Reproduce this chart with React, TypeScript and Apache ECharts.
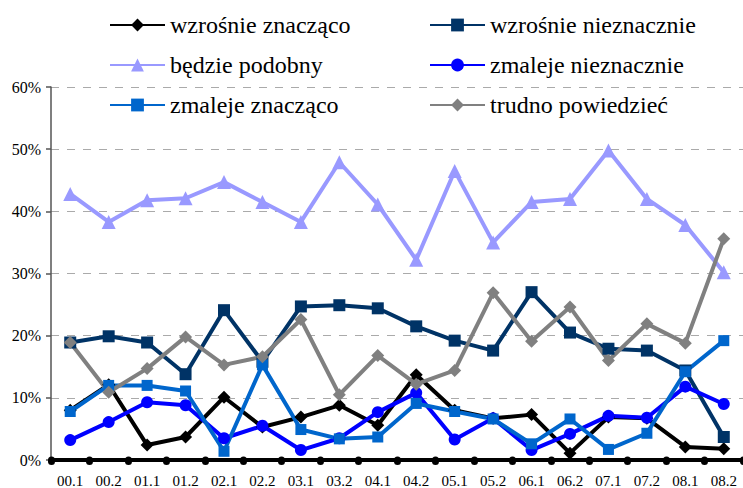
import React, { useEffect, useRef } from "react";
import * as echarts from "echarts";

const categories = ["00.1","00.2","01.1","01.2","02.1","02.2","03.1","03.2","04.1","04.2","05.1","05.2","06.1","06.2","07.1","07.2","08.1","08.2"];

const wzrosnieZnaczaco = [8.0,12.1,2.4,3.7,10.1,5.3,6.9,8.8,5.6,13.7,8.0,6.7,7.3,1.1,6.9,6.7,2.1,1.8];
const wzrosnieNieznacznie = [18.9,19.9,18.9,13.8,24.1,15.8,24.7,24.9,24.4,21.5,19.2,17.6,27.0,20.5,17.9,17.6,14.4,3.7];
const bedziePodobny = [42.8,38.3,41.8,42.1,44.7,41.5,38.3,47.9,41.1,32.2,46.5,35.0,41.5,42.0,49.8,42.0,37.8,30.2];
const zmalejeNieznacznie = [3.2,6.1,9.3,8.8,3.5,5.5,1.6,3.5,7.7,10.8,3.3,6.7,1.6,4.2,7.1,6.8,11.8,9.0];
const zmalejeZnaczaco = [7.8,12.0,12.0,11.1,1.4,15.3,4.9,3.4,3.7,9.1,7.8,6.6,2.6,6.6,1.7,4.3,14.2,19.2];
const trudnoPowiedziec = [18.9,10.9,14.7,19.8,15.3,16.6,22.6,10.5,16.8,12.2,14.4,26.9,19.1,24.6,16.0,21.9,18.8,35.6];

const yTicks = [0, 10, 20, 30, 40, 50, 60];

const FONT = "'Liberation Serif', 'Times New Roman', serif";

export default function App() {
  const ref = useRef<HTMLDivElement>(null);
  useEffect(() => {
    document.body.style.margin = "0";
    const chart = echarts.init(ref.current!, null, { renderer: "svg" });
    const mk = (name: string, data: number[], color: string, symbol: string, size: number) => ({
      name,
      type: "line",
      data,
      symbol,
      symbolSize: size,
      showSymbol: true,
      lineStyle: { color, width: 4 },
      itemStyle: { color, borderWidth: 0 },
      emphasis: { disabled: true },
    });
    const legendCommon = {
      orient: "vertical",
      top: 8,
      itemWidth: 55,
      itemHeight: 16,
      itemGap: 16,
      textStyle: { fontFamily: FONT, fontSize: 24, color: "#000", lineHeight: 24 },
      selectedMode: false,
    };
    chart.setOption({
      animation: false,
      legend: [
        { ...legendCommon, left: 104, data: ["wzrośnie znacząco", "będzie podobny", "zmaleje znacząco"] },
        { ...legendCommon, left: 424, data: ["wzrośnie nieznacznie", "zmaleje nieznacznie", "trudno powiedzieć"] },
      ],
      grid: { left: 51, right: -3, top: 87, bottom: 27, containLabel: false },
      xAxis: {
        type: "category",
        data: categories,
        boundaryGap: true,
        axisLine: { show: true, lineStyle: { color: "#000", width: 4 } },
        axisTick: { show: true, length: 1.5, lineStyle: { color: "#000", width: 7, cap: "round" } },
        axisLabel: { fontFamily: FONT, fontSize: 15, color: "#000", margin: 13 },
        splitLine: { show: false },
      },
      yAxis: {
        type: "value",
        min: 0,
        max: 60,
        interval: 10,
        axisLine: { show: true, lineStyle: { color: "#555", width: 1.5 } },
        axisTick: { show: true, length: 5, lineStyle: { color: "#555", width: 1.5 } },
        axisLabel: {
          fontFamily: FONT,
          fontSize: 16,
          color: "#000",
          margin: 10,
          formatter: (v: number) => (yTicks.includes(v) ? v + "%" : ""),
        },
        splitLine: { show: true, lineStyle: { color: "#aaa", type: [8, 8], width: 1.2 } },
      },
      series: [
        mk("wzrośnie znacząco", wzrosnieZnaczaco, "#000000", "diamond", 13),
        mk("wzrośnie nieznacznie", wzrosnieNieznacznie, "#003366", "rect", 12),
        mk("będzie podobny", bedziePodobny, "#9999FF", "triangle", 14),
        mk("zmaleje nieznacznie", zmalejeNieznacznie, "#0000FF", "circle", 12),
        mk("zmaleje znacząco", zmalejeZnaczaco, "#0066CC", "rect", 11),
        mk("trudno powiedzieć", trudnoPowiedziec, "#808080", "diamond", 13),
      ],
    });
    return () => chart.dispose();
  }, []);
  return <div ref={ref} style={{ width: 743, height: 488, position: "absolute", left: 0, top: 0, background: "#fff" }} />;
}
